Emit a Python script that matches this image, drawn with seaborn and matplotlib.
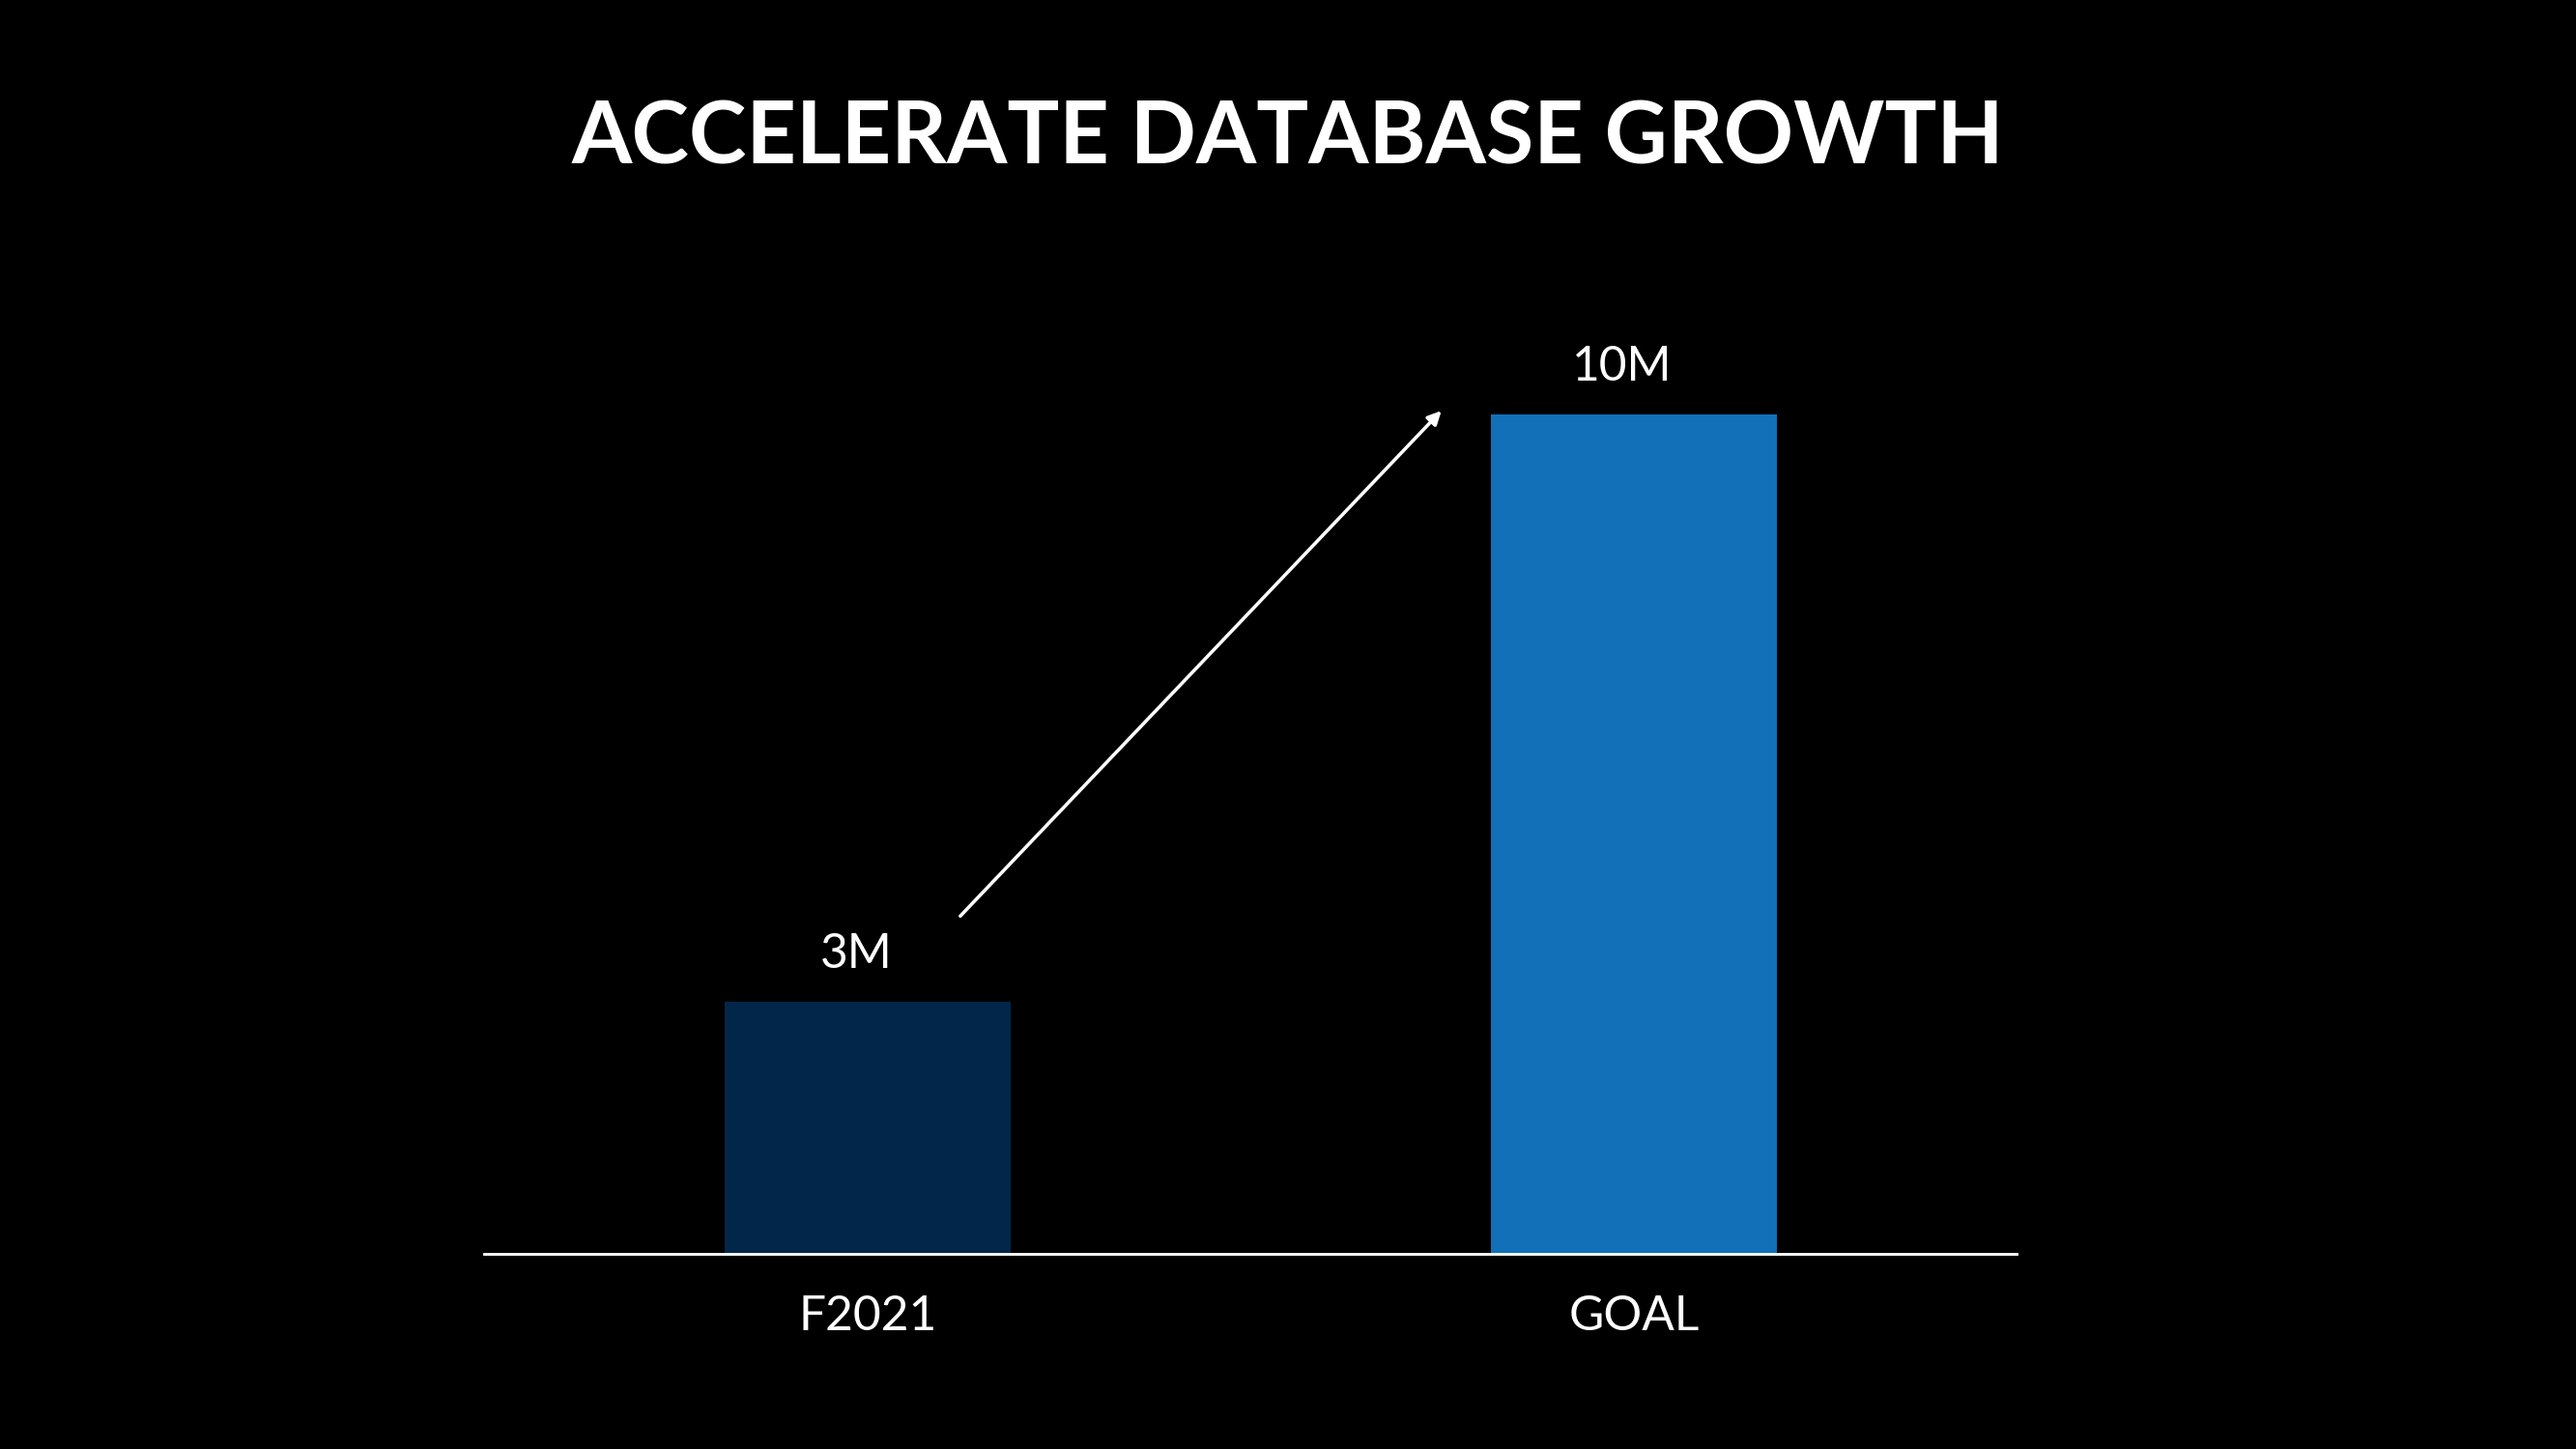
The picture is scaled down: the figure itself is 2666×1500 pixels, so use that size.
import matplotlib
matplotlib.use("Agg")
import matplotlib.pyplot as plt
import seaborn as sns
import pandas as pd

categories = ["F2021", "GOAL"]
values = [3, 10]
value_labels = ["3M", "10M"]
colors = ["#02264A", "#1170B8"]

df = pd.DataFrame({"cat": categories, "val": values})

fig = plt.figure(figsize=(2666/170, 1500/170), dpi=170, facecolor="black")
ax = fig.add_axes([0.188, 0.135, 0.595, 0.695])
ax.set_facecolor("black")
sns.barplot(data=df, x="cat", y="val", hue="cat", palette=colors, width=0.373,
            legend=False, ax=ax, saturation=1)
ax.set_xlim(-0.5, 1.5)
ax.set_ylim(0, 12)
for s in ["top", "right", "left"]:
    ax.spines[s].set_visible(False)
ax.spines["bottom"].set_color("white")
ax.spines["bottom"].set_linewidth(1.2)
ax.set_yticks([])
ax.set_xlabel(""); ax.set_ylabel("")
ax.tick_params(axis="x", length=0, pad=18, colors="white", labelsize=21)
for t in ax.get_xticklabels():
    t.set_fontfamily("Lato")
for i, (v, lab) in enumerate(zip(values, value_labels)):
    ax.text(i - 0.015, v + 0.3, lab, ha="center", va="bottom", color="white",
            fontsize=21, fontfamily="Lato")
ax.annotate("", xy=(0.753, 10.08), xytext=(0.117, 3.98),
            arrowprops=dict(arrowstyle="-|>", color="white", lw=1.5, mutation_scale=12))
fig.text(0.5, 0.904, "ACCELERATE DATABASE GROWTH", ha="center", va="center",
         color="white", fontsize=38, fontweight="bold", fontfamily="Lato")
fig.savefig("out.png", facecolor="black")
